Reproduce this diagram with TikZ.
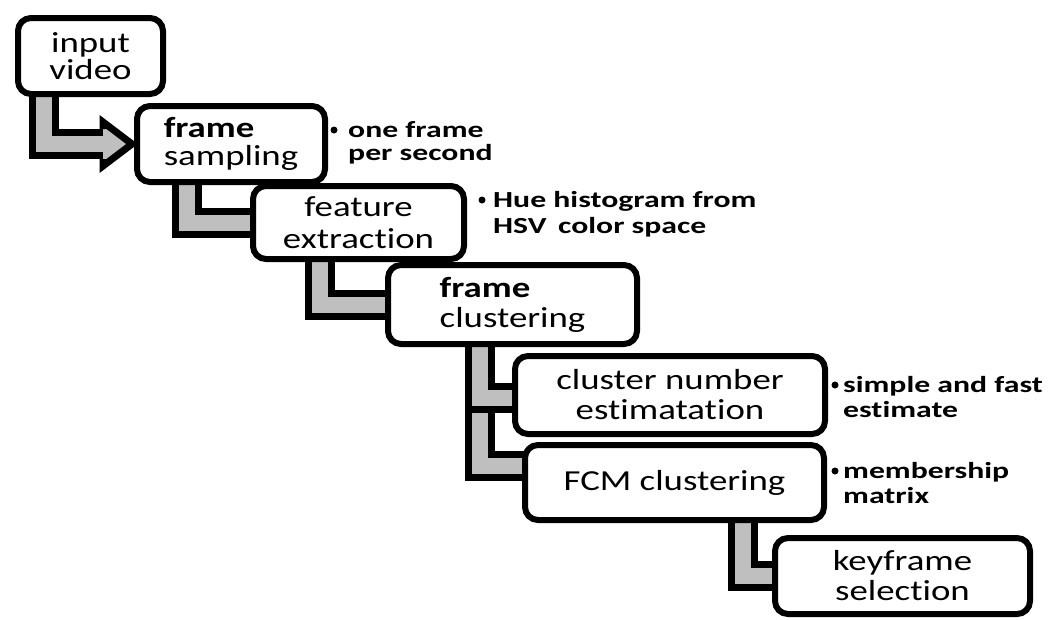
\documentclass[tikz,border=0pt]{standalone}
\usepackage{fontspec}
\newfontfamily\boxfont[FakeStretch=1.27,Ligatures=NoCommon]{Carlito}
\newfontfamily\notefont[FakeStretch=1.38,Ligatures=NoCommon]{Carlito}
\usetikzlibrary{calc}
\definecolor{lgray}{gray}{0.75}
\pgfdeclarelayer{bg}
\pgfsetlayers{bg,main}
\begin{document}
\begin{tikzpicture}[x=1pt,y=-1pt,
  box/.style={draw=black, line width=6pt, fill=white, rounded corners=13pt,
    inner sep=0pt, align=center, font=\boxfont\fontsize{29}{30}\selectfont},
  conn/.style={draw=black, double=lgray, double distance=16pt, line width=7pt, line join=miter},
  headstyle/.style={draw=black, fill=lgray, line width=7pt, line join=miter},
  note/.style={anchor=base west, inner sep=0pt, align=left,
    font=\notefont\bfseries\fontsize{23}{25}\selectfont},
  dot/.style={circle, fill=black, inner sep=0pt, minimum size=7pt}]
\useasboundingbox (0,0) rectangle (1048,619);

% boxes
\node[box, minimum width=145pt, minimum height=76pt,
  font=\boxfont\fontsize{29}{27}\selectfont] (b1) at (90.5,56) {input\\video};
\node[box, minimum width=188pt, minimum height=76pt, align=left,
  font=\boxfont\fontsize{29}{28}\selectfont] (b2) at (231,144) {\textbf{frame}\\sampling};
\node[box, minimum width=211pt, minimum height=73pt,
  font=\boxfont\fontsize{29}{32}\selectfont] (b3) at (358.5,222.5) {feature\\extraction};
\node[box, minimum width=249pt, minimum height=79pt, align=left] (b4) at (512.5,304.5) {\textbf{frame}\\clustering};
\node[box, minimum width=310pt, minimum height=78pt] (b5) at (670,395) {cluster number\\estimatation};
\node[box, minimum width=299pt, minimum height=75pt] (b6) at (674.5,482.5) {FCM clustering};
\node[box, minimum width=255pt, minimum height=76pt] (b7) at (902.5,576) {keyframe\\selection};

% annotations (anchor on the baseline of the last line)
\node[dot] (d1) at (334,130) {};
\node[note, font=\notefont\bfseries\fontsize{23}{23}\selectfont] (n1) at (348,160) {one frame\\per second};
\node[dot] (d2) at (482,200) {};
\node[note, font=\notefont\bfseries\fontsize{23}{26}\selectfont] (n2) at (493,233) {Hue histogram from\\HSV\enspace color space};
\node[dot] (d3) at (835,385) {};
\node[note] (n3) at (843,417) {simple and fast\\estimate};
\node[dot] (d4) at (835,471) {};
\node[note] (n4) at (843,503) {membership\\matrix};

% connectors
\begin{pgfonlayer}{bg}
\draw[conn] ([xshift=29pt,yshift=10pt]b1.south west) |- ([xshift=-31pt]b2.west);
\path[headstyle] ([xshift=-31pt,yshift=15pt]b2.west) -- ([xshift=-31pt,yshift=22pt]b2.west)
  -- ([xshift=-2pt]b2.west) -- ([xshift=-31pt,yshift=-22pt]b2.west) -- ([xshift=-31pt,yshift=-15pt]b2.west);
\draw[conn] ([xshift=53pt,yshift=10pt]b2.south west) |- ([xshift=10pt]b3.west);
\draw[conn] ([xshift=70pt,yshift=10pt]b3.south west) |- ([xshift=10pt]b4.west);
\draw[conn] ([xshift=95pt,yshift=10pt]b4.south west) |- ([xshift=10pt,yshift=17pt]b6.west);
\draw[conn] ([xshift=95pt,yshift=10pt]b4.south west) |- ([xshift=10pt,yshift=-3pt]b5.west);
\draw[conn] ([xshift=221pt,yshift=10pt]b6.south west) |- ([xshift=10pt]b7.west);
\end{pgfonlayer}
\end{tikzpicture}
\end{document}
